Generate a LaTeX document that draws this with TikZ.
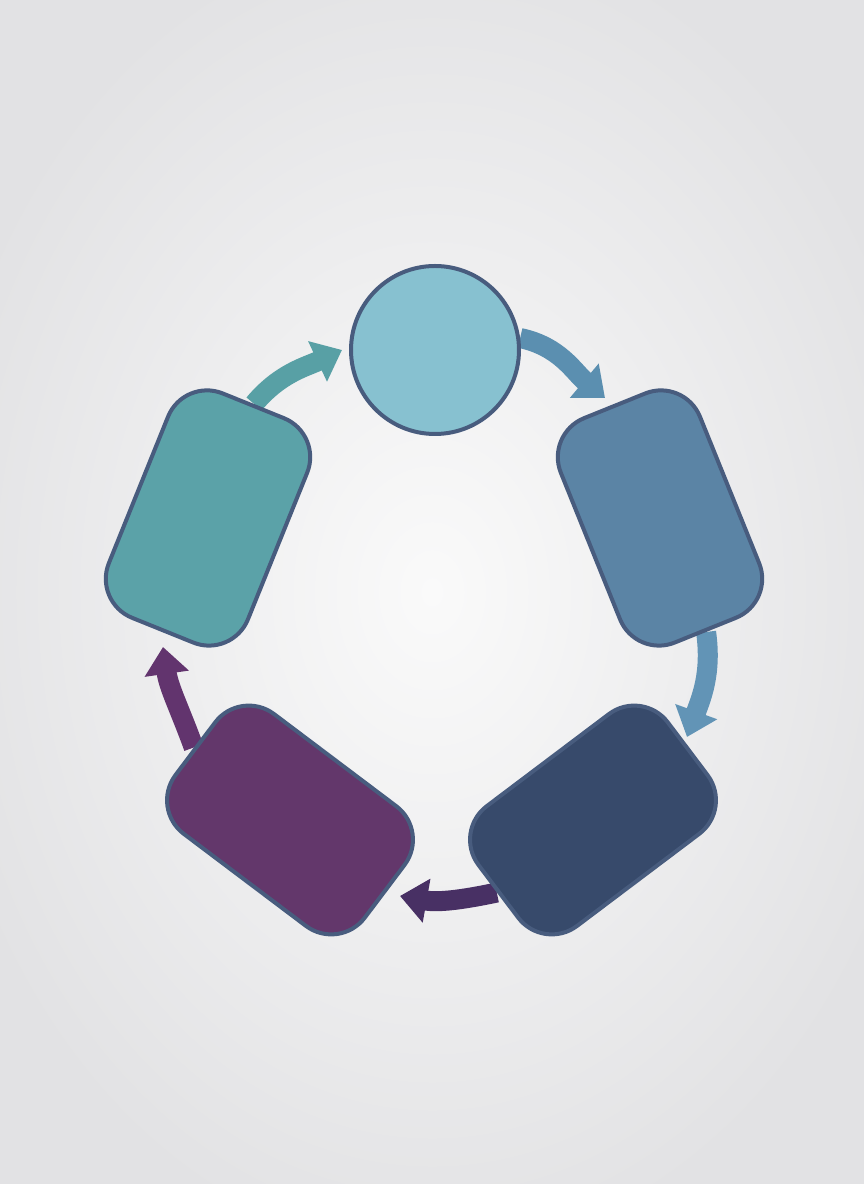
\documentclass[tikz,border=0pt]{standalone}
\usetikzlibrary{arrows.meta}
\pgfdeclarelayer{bg}
\pgfdeclarelayer{arr}
\pgfsetlayers{bg,arr,main}
\definecolor{bgin}{RGB}{250,250,250}
\definecolor{bgout}{RGB}{226,226,228}
\definecolor{edgec}{RGB}{72,92,126}
\definecolor{circfill}{RGB}{135,193,208}
\definecolor{rightfill}{RGB}{91,132,165}
\definecolor{leftfill}{RGB}{91,162,168}
\definecolor{navyfill}{RGB}{55,74,107}
\definecolor{purplefill}{RGB}{99,55,107}
\definecolor{aone}{RGB}{91,143,176}
\definecolor{atwo}{RGB}{98,148,182}
\definecolor{athree}{RGB}{72,48,100}
\definecolor{afour}{RGB}{98,52,110}
\definecolor{afive}{RGB}{88,160,165}
\begin{document}
\begin{tikzpicture}[x=1pt,y=1pt,
  tallbox/.style={draw=edgec, line width=4pt, rounded corners=42pt,
    minimum width=150pt, minimum height=242pt, inner sep=0pt},
  widebox/.style={draw=edgec, line width=4pt, rounded corners=42pt,
    minimum width=237pt, minimum height=150pt, inner sep=0pt},
  flow/.style={line width=20pt, -{Triangle[width=43pt,length=27pt]}}]
\useasboundingbox (0,0) rectangle (864,1184);
\begin{pgfonlayer}{bg}
  \shade[inner color=bgin, outer color=bgout] (-80,-80) rectangle (944,1264);
\end{pgfonlayer}
% nodes
\node[circle, draw=edgec, line width=4pt, fill=circfill, minimum size=168pt, inner sep=0pt] (circ) at (435,834) {};
\node[tallbox, fill=rightfill, rotate=22] (rr) at (660,666) {};
\node[widebox, fill=navyfill, rotate=37] (br) at (593,364) {};
\node[widebox, fill=purplefill, rotate=-37] (bl) at (290,364) {};
\node[tallbox, fill=leftfill, rotate=-22] (lr) at (208,666) {};
% arrow tips
\coordinate (t1) at (605,786);
\coordinate (t2) at (687,447);
\coordinate (t3) at (400,288);
\coordinate (t4) at (163,537);
\coordinate (t5) at (342,834);
\begin{pgfonlayer}{arr}
  \draw[flow, aone] (circ.8) to[out=-12, in=140] (t1);
  \draw[flow, atwo] (rr.south) to[out=-82, in=70] (t2);
  \draw[flow, athree] (br.west) to[out=192, in=-10] (t3);
  \draw[flow, afour] (bl.west) to[out=110, in=-82] (t4);
  \draw[flow, afive] (lr.north) to[out=50, in=205] (t5);
\end{pgfonlayer}
\end{tikzpicture}
\end{document}
